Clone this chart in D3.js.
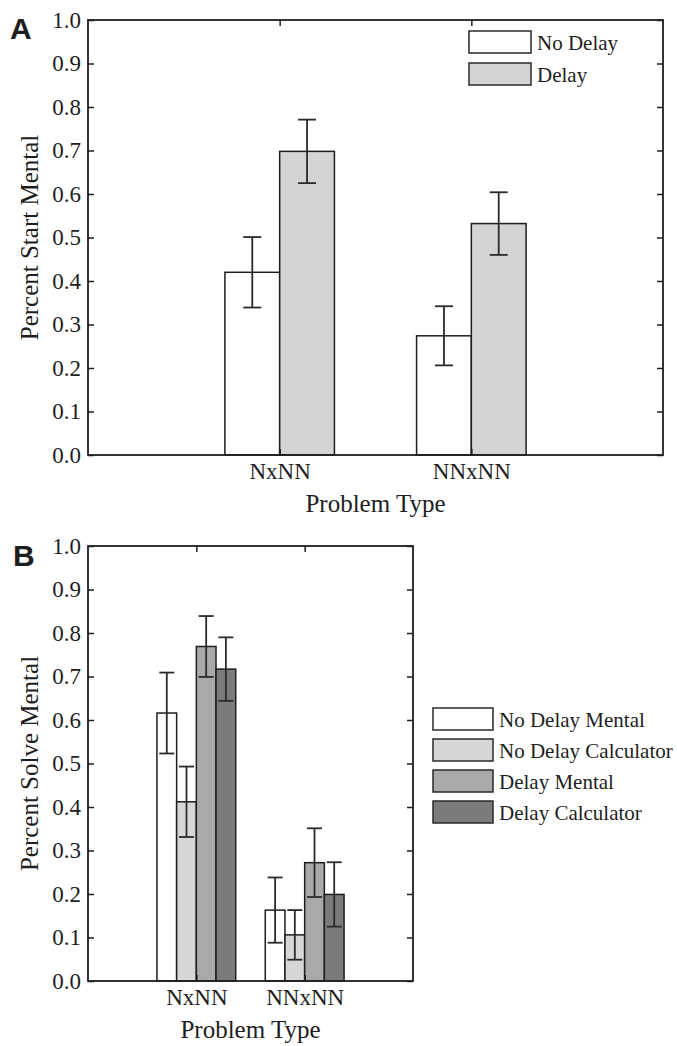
<!DOCTYPE html>
<html>
<meta charset="utf-8">
<head>
<style>

body { margin: 0; background: #fff; }

text {
  font-family: "Liberation Serif", "Times New Roman", serif;
  fill: #1e1e1e;
}

.panel-label {
  font-family: "Liberation Sans", Arial, sans-serif;
  font-weight: bold;
  font-size: 30px;
}

</style>
<script src="https://d3js.org/d3.v7.min.js"></script>
</head>
<body>
  <svg width="677" height="1046"></svg>
  <script>
  // shared
  var categories = ["NxNN", "NNxNN"];
  var yTicks = [0, 0.1, 0.2, 0.3, 0.4, 0.5, 0.6, 0.7, 0.8, 0.9, 1.0];

  // panel A - percent start mental
  var startSeries = ["No Delay", "Delay"];
  var startNoDelay = [0.420, 0.274];
  var startDelay = [0.698, 0.532];
  var startNoDelayErr = [0.081, 0.068];
  var startDelayErr = [0.073, 0.072];

  // panel B - percent solve mental
  var solveSeries = ["No Delay Mental", "No Delay Calculator", "Delay Mental", "Delay Calculator"];
  var solveNoDelayMental = [0.616, 0.163];
  var solveNoDelayCalc = [0.412, 0.106];
  var solveDelayMental = [0.769, 0.272];
  var solveDelayCalc = [0.717, 0.199];
  var solveNoDelayMentalErr = [0.093, 0.075];
  var solveNoDelayCalcErr = [0.081, 0.057];
  var solveDelayMentalErr = [0.070, 0.079];
  var solveDelayCalcErr = [0.073, 0.074];

  var svg = d3.select("svg");
  var stroke = "#1e1e1e";

  function drawPanel(p) {
    var g = svg.append("g");

    var x = d3.scaleLinear().domain([0, 3]).range([p.left, p.right]);
    var y = d3.scaleLinear().domain([0, 1]).range([p.bottom, p.top]);

    // matlab style grouped bars
    var n = p.series.length;
    var groupW = n / (n + 1.5);
    var barW = groupW / n;

    var bars = [];
    p.values.forEach(function(vals, s) {
      vals.forEach(function(v, c) {
        var x0 = (c + 1) - groupW / 2 + s * barW;
        bars.push({ s: s, c: c, v: v, err: p.errors[s][c], x0: x0, x1: x0 + barW });
      });
    });

    g.selectAll(".bar")
      .data(bars)
      .enter().append("rect")
        .attr("class", "bar")
        .attr("x", function(d) { return x(d.x0); })
        .attr("width", function(d) { return x(d.x1) - x(d.x0); })
        .attr("y", function(d) { return y(d.v); })
        .attr("height", function(d) { return y(0) - y(d.v); })
        .style("fill", function(d) { return p.colors[d.s]; })
        .style("stroke", stroke)
        .style("stroke-width", 1.5);

    var eb = g.selectAll(".err")
      .data(bars)
      .enter().append("g")
        .attr("class", "err")
        .style("stroke", "#2a2a2a")
        .style("stroke-width", 1.8);

    eb.append("line")
        .attr("x1", function(d) { return x((d.x0 + d.x1) / 2); })
        .attr("x2", function(d) { return x((d.x0 + d.x1) / 2); })
        .attr("y1", function(d) { return y(d.v - d.err); })
        .attr("y2", function(d) { return y(d.v + d.err); });

    [1, -1].forEach(function(sign) {
      eb.append("line")
          .attr("x1", function(d) { return x((d.x0 + d.x1) / 2) - p.cap; })
          .attr("x2", function(d) { return x((d.x0 + d.x1) / 2) + p.cap; })
          .attr("y1", function(d) { return y(d.v + sign * d.err); })
          .attr("y2", function(d) { return y(d.v + sign * d.err); });
    });

    // axes, ticks inside the box
    g.append("g")
        .attr("transform", "translate(" + p.left + ",0)")
        .call(d3.axisLeft(y).tickValues(yTicks).tickSize(-6).tickPadding(7)
          .tickFormat(d3.format(".1f")));

    g.append("g")
        .attr("transform", "translate(" + p.right + ",0)")
        .call(d3.axisRight(y).tickValues(yTicks).tickSize(-6).tickFormat(""));

    g.append("g")
        .attr("transform", "translate(0," + p.top + ")")
        .call(d3.axisTop(x).tickValues([1, 2]).tickSize(-6).tickFormat(""));

    g.append("g")
        .attr("transform", "translate(0," + p.bottom + ")")
        .call(d3.axisBottom(x).tickValues([1, 2]).tickSize(-6).tickPadding(8)
          .tickFormat(function(d) { return categories[d - 1]; }));

    g.selectAll(".domain").remove();
    g.selectAll(".tick line").style("stroke", stroke).style("stroke-width", 1.5);
    g.selectAll(".tick text")
        .style("font-family", '"Liberation Serif", serif')
        .style("font-size", "23px")
        .style("fill", "#1e1e1e");

    g.append("rect")
        .attr("x", p.left)
        .attr("y", p.top)
        .attr("width", p.right - p.left)
        .attr("height", p.bottom - p.top)
        .style("fill", "none")
        .style("stroke", stroke)
        .style("stroke-width", 1.8);

    // labels
    g.append("text")
        .attr("transform", "translate(38," + (p.top + p.bottom) / 2 + ") rotate(-90)")
        .attr("text-anchor", "middle")
        .style("font-size", "25px")
        .text(p.ylabel);

    g.append("text")
        .attr("x", (p.left + p.right) / 2)
        .attr("y", p.xlabelY)
        .attr("text-anchor", "middle")
        .style("font-size", "25px")
        .text("Problem Type");

    g.append("text")
        .attr("class", "panel-label")
        .attr("x", p.labelX)
        .attr("y", p.labelY)
        .text(p.label);

    // legend
    var leg = g.selectAll(".legend")
      .data(p.series)
      .enter().append("g")
        .attr("class", "legend")
        .attr("transform", function(d, i) { return "translate(" + p.legX + "," + (p.legY + i * p.legStep) + ")"; });

    leg.append("rect")
        .attr("width", p.legW)
        .attr("height", 22)
        .style("fill", function(d, i) { return p.colors[i]; })
        .style("stroke", "#2a2a2a")
        .style("stroke-width", 1.5);

    leg.append("text")
        .attr("x", p.legW + 6)
        .attr("y", 19)
        .style("font-size", "21px")
        .text(function(d) { return d; });
  }

  drawPanel({
    left: 88, right: 663, top: 20, bottom: 455,
    series: startSeries,
    values: [startNoDelay, startDelay],
    errors: [startNoDelayErr, startDelayErr],
    colors: ["#ffffff", "#d4d4d4"],
    cap: 9,
    ylabel: "Percent Start Mental",
    xlabelY: 512,
    label: "A", labelX: 10, labelY: 39,
    legX: 469, legY: 31, legStep: 32, legW: 62
  });

  drawPanel({
    left: 88, right: 413, top: 546, bottom: 981,
    series: solveSeries,
    values: [solveNoDelayMental, solveNoDelayCalc, solveDelayMental, solveDelayCalc],
    errors: [solveNoDelayMentalErr, solveNoDelayCalcErr, solveDelayMentalErr, solveDelayCalcErr],
    colors: ["#ffffff", "#d6d6d6", "#a9a9a9", "#7b7b7b"],
    cap: 7.5,
    ylabel: "Percent Solve Mental",
    xlabelY: 1038,
    label: "B", labelX: 13, labelY: 566,
    legX: 433, legY: 708, legStep: 31, legW: 60
  });

  </script>
</body>
</html>
